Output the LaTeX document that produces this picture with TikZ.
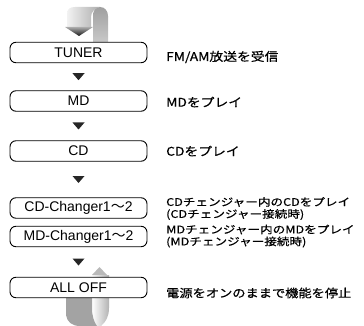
\documentclass[tikz,border=0pt]{standalone}
\usepackage{fontspec}
\setmainfont{Liberation Sans}
\newfontfamily\jp{Noto Sans CJK JP}[FakeBold=0.5,FakeStretch=1.15]
\newfontfamily\jps{Noto Sans CJK JP}[FakeBold=0.5,FakeStretch=1.2]
\newfontfamily\jpw{Noto Sans CJK JP}
\usetikzlibrary{calc}
\begin{document}
\begin{tikzpicture}[x=1pt,y=1pt,
  modebox/.style={draw, line width=0.9pt, rounded corners=6pt, fill=white,
    minimum width=137pt, minimum height=20.5pt, inner sep=0pt,
    font=\fontsize{14}{16}\selectfont},
  desc/.style={anchor=west, inner sep=0pt, align=left,
    font=\jp\fontsize{12}{13}\selectfont},
  bigdesc/.style={desc, font=\jp\fontsize{11.5}{13}\selectfont},
  smalldesc/.style={desc, font=\jps\fontsize{10.5}{12}\selectfont},
  arrowfill/.style={fill=black!85}]
\useasboundingbox (0,0) rectangle (364,-326);

% top ribbon
\shade[top color=gray!75, bottom color=gray!40]
  (93,-45) -- (93,-16) .. controls (93,-10) and (96,-7) .. (100,-7)
  .. controls (105,-7) and (108,-11) .. (108,-16) -- (108,-45) -- cycle;
\shade[left color=gray!10, right color=gray!65]
  (67,-28) -- (67,-14) .. controls (67,-9) and (70,-7) .. (75,-7) -- (100,-7)
  .. controls (95,-8) and (91,-12) .. (91,-17) -- (91,-28) -- cycle;
\shade[top color=gray!65, bottom color=black!90]
  (65,-27) -- (93,-27) -- (79,-36) -- cycle;

% bottom ribbon
\shade[left color=white, right color=gray!60]
  (92,-275) -- (92,-308) .. controls (92,-316) and (94,-322) .. (97,-326)
  -- (101,-326) .. controls (106,-322) and (109,-316) .. (109,-308) -- (109,-275) -- cycle;
\fill[gray!72]
  (66,-296) -- (66,-315) .. controls (67,-322) and (72,-326) .. (80,-326) -- (97,-326)
  .. controls (94,-322) and (92,-316) .. (92,-308) -- (92,-296) -- cycle;
\fill[gray!55]
  (92,-275) -- (107,-275) -- (99.5,-267) -- cycle;

% boxes
\node[modebox] (tuner) at (78.5,-52.5) {TUNER};
\node[modebox] (md) at (78.5,-101) {MD};
\node[modebox] (cd) at (78.5,-151) {CD};
\node[modebox] (cdch) at (78.5,-208) {CD-Changer1{\jpw ～}2};
\node[modebox] (mdch) at (78.5,-236.5) {MD-Changer1{\jpw ～}2};
\node[modebox] (off) at (78.5,-287.5) {ALL OFF};

% arrows
\foreach \a/\b in {tuner/md, md/cd, cd/cdch, mdch/off}{
  \fill[arrowfill] ($(\a.south)!0.5!(\b.north)$) ++(-6,3.5) -- ++(12,0) -- ++(-6,-7) -- cycle;
}

% descriptions
\node[desc] (l1) at (166,-57) {FM/AM放送を受信};
\node[desc] (l2) at (166,-102) {MDをプレイ};
\node[desc] (l3) at (166,-151) {CDをプレイ};
\node[smalldesc] (l4) at (166,-208.5) {CDチェンジャー内のCDをプレイ\\(CDチェンジャー接続時)};
\node[smalldesc] (l5) at (166,-236) {MDチェンジャー内のMDをプレイ\\(MDチェンジャー接続時)};
\node[bigdesc] (l6) at (166,-293) {電源をオンのままで機能を停止};
\end{tikzpicture}
\end{document}
